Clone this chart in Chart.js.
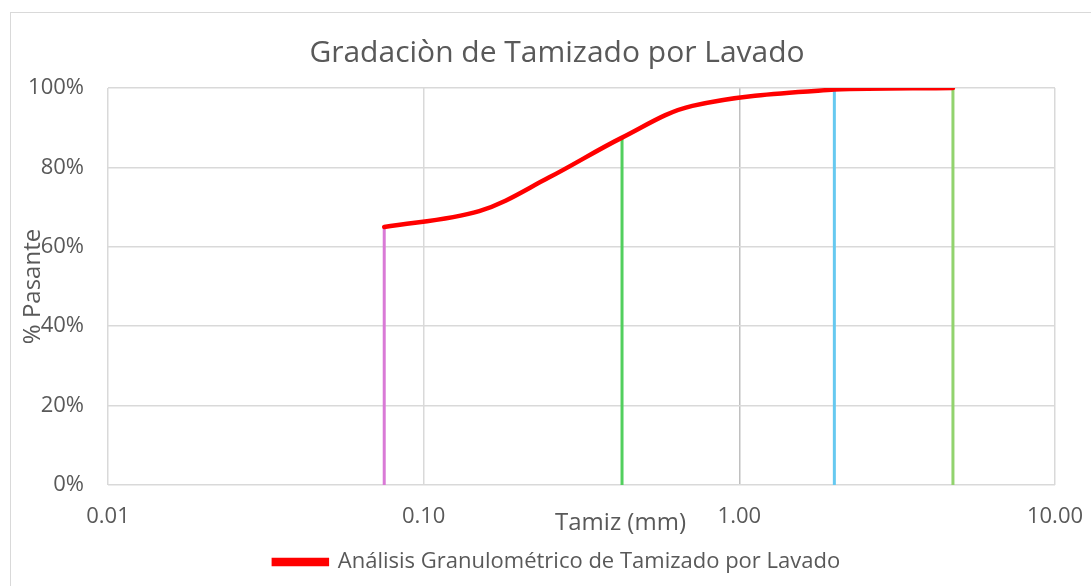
<!DOCTYPE html>
<html>
<head>
<meta charset="utf-8">
<script src="https://cdn.jsdelivr.net/npm/chart.js@4"></script>
<style>
    html, body { margin: 0; padding: 0; background: #fff; overflow: hidden; }
    #wrap {
        position: absolute; left: 10px; top: 12px;
        width: 1094px; height: 590px;
        border: 1px solid #d9d9d9; box-sizing: border-box;
    }
    #chart { display: block; }
</style>
</head>
<body>
<div id="wrap"><canvas id="chart" width="1092" height="588"></canvas></div>
<script>
// ── Data ────────────────────────────────────────────────────────────────
const SIEVE_MM   = [4.75, 2.0, 0.71, 0.425, 0.25, 0.15, 0.075];
const PASSING    = [100, 99.6, 95.5, 87.5, 77.5, 69.0, 65.0];
// vertical marker lines, from 0% up to the curve
const MARKER_MM     = [0.075, 0.425, 2.0, 4.75];
const MARKER_COLORS = ["#d97ad6", "#52cf5e", "#66c9f0", "#92d36e"];
const X_TICKS = [0.01, 0.1, 1, 10];
const Y_TICKS = [0, 20, 40, 60, 80, 100];

const TXT  = "#595959";
const FONT = "'Open Sans', 'Liberation Sans', sans-serif";

const curve = SIEVE_MM.map((x, i) => ({ x, y: PASSING[i] }));
const markerSets = MARKER_MM.map((mm, i) => {
    const top = PASSING[SIEVE_MM.indexOf(mm)];
    return {
        label: "m" + i,
        data: [{ x: mm, y: 0 }, { x: mm, y: top }],
        borderColor: MARKER_COLORS[i],
        borderWidth: 3,
        pointRadius: 0,
        tension: 0,
        order: 2,
    };
});

// axis titles drawn where the original put them (y title overlaps ticks)
const axisTitles = {
    id: "axisTitles",
    afterDraw(chart) {
        const { ctx, chartArea: a } = chart;
        ctx.save();
        ctx.fillStyle = TXT;
        ctx.font = `24px ${FONT}`;
        ctx.textAlign = "center";
        ctx.textBaseline = "middle";
        ctx.fillText("Tamiz (mm)", (a.left + a.right) / 2 + 39, a.bottom + 38);
        ctx.translate(22, (a.top + a.bottom) / 2);
        ctx.rotate(-Math.PI / 2);
        ctx.fillText("% Pasante", 0, 0);
        ctx.restore();
    },
};

new Chart(document.getElementById("chart"), {
    type: "line",
    data: {
        datasets: [
            {
                label: "Análisis Granulométrico de Tamizado por Lavado",
                data: curve,
                borderColor: "#ff0000",
                backgroundColor: "#ff0000",
                borderWidth: 4.5,
                pointRadius: 0,
                tension: 0.35,
                borderCapStyle: "round",
                order: 1,
            },
            ...markerSets,
        ],
    },
    options: {
        responsive: false,
        animation: false,
        layout: { padding: { left: 0, right: 0, top: 0, bottom: 18 } },
        plugins: {
            title: {
                display: true,
                text: "Gradaciòn de Tamizado por Lavado",
                color: TXT,
                font: { family: FONT, size: 30, weight: "normal" },
                padding: { top: 22, bottom: 17 },
            },
            legend: {
                position: "bottom",
                labels: {
                    filter: item => item.datasetIndex === 0,
                    color: TXT,
                    font: { family: FONT, size: 22 },
                    boxWidth: 53,
                    boxHeight: 4,
                    padding: 10,
                },
            },
            tooltip: { enabled: false },
        },
        scales: {
            x: {
                type: "logarithmic",
                min: 0.01, max: 10,
                afterBuildTicks: s => { s.ticks = X_TICKS.map(v => ({ value: v })); },
                afterFit: s => { s.height = 56; },
                ticks: {
                    color: TXT,
                    font: { family: FONT, size: 22 },
                    padding: 19,
                    maxRotation: 0,
                    autoSkip: false,
                    callback: v => Number(v).toFixed(2),
                },
                grid: {
                    color: c => (c.tick && c.tick.value === 1 ? "#c0c0c0" : "#d9d9d9"),
                    lineWidth: 1.5,
                    drawTicks: false,
                },
                border: { display: false },
            },
            y: {
                min: 0, max: 100,
                afterBuildTicks: s => { s.ticks = Y_TICKS.map(v => ({ value: v })); },
                afterFit: s => { s.width = 97; },
                ticks: {
                    color: TXT,
                    font: { family: FONT, size: 22 },
                    padding: 24,
                    callback: v => v + "%",
                },
                grid: { color: "#d9d9d9", lineWidth: 1.5, drawTicks: false },
                border: { display: false },
            },
            // empty right-hand margin so title and legend centre on the whole frame
            yRight: {
                position: "right",
                min: 0, max: 100,
                afterFit: s => { s.width = 48; },
                ticks: { display: false },
                grid: { display: false, drawTicks: false },
                border: { display: false },
            },
        },
    },
    plugins: [axisTitles],
});
</script>
</body>
</html>
